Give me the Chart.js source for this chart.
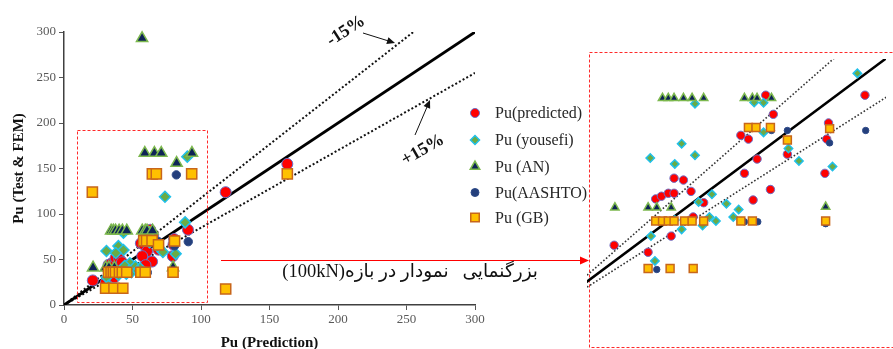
<!DOCTYPE html>
<html><head><meta charset="utf-8">
<script src="https://cdn.jsdelivr.net/npm/chart.js@4.4.1/dist/chart.umd.min.js"></script>
<style>
html,body{margin:0;padding:0;background:#fff;width:893px;height:349px;overflow:hidden;}
#main{position:absolute;left:0;top:0;width:893px;height:349px;}
#inset{position:absolute;left:580px;top:52px;width:313px;height:296px;}
#note{position:absolute;right:355px;top:259px;line-height:24px;font-size:18.5px;font-family:"Liberation Serif","DejaVu Serif","DejaVu Sans",serif;color:#111;white-space:pre;direction:rtl;}
</style></head><body>
<canvas id="main" width="893" height="349"></canvas>
<canvas id="inset" width="313" height="296"></canvas>
<div id="note" dir="rtl">بزرگنمایی   نمودار در بازه(100kN)</div>
<script>
// ---- data (x = Pu prediction, y = Pu test & FEM) ----
const predicted = [[21,27],[30.4,24.4],[36.8,30.4],[32.5,44.2],[34.1,45.2],[36,46.3],[37.6,46.3],[37.6,51.9],[40.2,51.2],[42.3,47],[42.9,37.5],[45.8,42.8],[56.1,67.8],[58.2,66.4],[63,82.7],[65.1,75.6],[69,60.8],[60.6,59],[57.1,53.7],[64.3,47.7],[59.5,43.8],[80.4,72.4],[79.9,66.4],[79.4,53.7],[90.5,82.7],[118,124],[163,155]];
const yousefi = [[31,59.4],[39.7,64.7],[43.4,60.4],[37.8,57.2],[43.4,79.5],[48.1,45.9],[44.4,43.1],[52.1,42.4],[55.5,40.3],[47.4,37.5],[49.2,36],[54,37.5],[45.5,34.3],[39.7,32.9],[37.8,36.4],[31.2,30.4],[32.3,21.2],[62.4,79.9],[59.8,80],[62.4,68.9],[69.3,62.9],[72.2,58.3],[81.5,56.2],[88.4,90.8],[73.7,119],[90,163]];
const an = [[21.2,41],[30.4,41],[32.8,41],[36.8,41],[79.6,41.3],[34.4,81.6],[36,81.6],[37.6,81.6],[40.2,81.6],[42.6,81.6],[45.8,81.6],[57.1,81.6],[59.3,81.6],[60.6,81.6],[64.6,81.6],[82.2,156],[59,167],[66,167],[71,167],[93.4,167],[57,293]];
const aashto = [[32.8,18],[57.1,35.7],[60.8,35.7],[79.6,35],[64.6,69.6],[69,69.6],[80.7,65],[90.7,69.6],[82,143]];
const gb = [[30.4,18.4],[36.5,18.4],[42.9,18.4],[32.5,36],[34.4,36],[36,36],[37.6,36],[40.5,36],[42.6,36],[45.8,36],[56.1,36],[59.3,36],[79.6,36],[58.2,70.7],[60.3,70.7],[64.3,70.7],[69,66.1],[80.7,70.3],[20.7,124],[64.5,144],[67.4,144],[93.2,144],[118,17.6],[163,144]];
const seriesLabels = ['Pu(predicted)','Pu (yousefi)','Pu (AN)','Pu(AASHTO)','Pu (GB)'];
const axisMax = 300;
const tolerance = 0.15;
const tickStep = 50;
const zoomRange = [9.5, 104.5, 3, 192]; // region magnified (x0,x1,y0,y1)

const styles = [
  {pointStyle:'circle', bg:'#ff0000', bc:'#6a70c8', bw:1, r:5.5, ri:4.2, order:5},
  {pointStyle:'rectRot', bg:'#6aab45', bc:'#20c0ea', bw:1.5, r:5.5, ri:4.2, order:4},
  {pointStyle:'triangle', bg:'#0e2356', bc:'#7cb84e', bw:1.5, r:6.5, ri:4.8, order:3},
  {pointStyle:'circle', bg:'#243f7c', bc:'#2e4a88', bw:1, r:4.2, ri:3.2, order:2},
  {pointStyle:'rect', bg:'#ffc000', bc:'#c8661a', bw:1.5, r:7.2, ri:5.6, order:1}
];
const allSeries = [predicted, yousefi, an, aashto, gb];

function pointSets(inset){
  return allSeries.map((pts,i)=>({
    label: seriesLabels[i],
    data: pts.map(p=>({x:p[0],y:p[1]})),
    pointStyle: styles[i].pointStyle,
    backgroundColor: styles[i].bg,
    borderColor: styles[i].bc,
    borderWidth: styles[i].bw,
    pointRadius: inset ? styles[i].ri : styles[i].r,
    pointHoverRadius: inset ? styles[i].ri : styles[i].r,
    order: styles[i].order,
    showLine:false,
    clip: false
  }));
}
function lineSets(inset){
  return [
    {label:'1:1', data:[{x:0,y:0},{x:axisMax,y:axisMax}], showLine:true, pointRadius:0, borderColor:'#000', borderWidth: inset?2.6:2.8, order:10, clip:0},
    {label:'-15%', data:[{x:0,y:0},{x:axisMax*(1-tolerance),y:axisMax}], showLine:true, pointRadius:0, borderColor: inset?'#333':'#111', borderWidth: inset?1.6:2, borderDash: inset?[1.6,2]:[2,2.2], order:10, clip:0},
    {label:'+15%', data:[{x:0,y:0},{x:axisMax,y:axisMax*(1-tolerance)}], showLine:true, pointRadius:0, borderColor: inset?'#333':'#111', borderWidth: inset?1.6:2, borderDash: inset?[1.6,2]:[2,2.2], order:10, clip:0}
  ];
}

function drawMarker(ctx, st, x, y, r){
  ctx.save();
  ctx.fillStyle = st.bg; ctx.strokeStyle = st.bc; ctx.lineWidth = st.bw;
  if (Chart.helpers && Chart.helpers.drawPoint){
    Chart.helpers.drawPoint(ctx, {pointStyle:st.pointStyle, radius:r, borderWidth:st.bw, rotation:0}, x, y);
  }
  ctx.restore();
}
function arrow(ctx, x0,y0,x1,y1, head, color){
  const a = Math.atan2(y1-y0,x1-x0);
  ctx.save();
  ctx.strokeStyle=color; ctx.fillStyle=color; ctx.lineWidth=1; ctx.setLineDash([]);
  ctx.beginPath(); ctx.moveTo(x0,y0); ctx.lineTo(x1-Math.cos(a)*head*0.8,y1-Math.sin(a)*head*0.8); ctx.stroke();
  ctx.beginPath(); ctx.moveTo(x1,y1);
  ctx.lineTo(x1-Math.cos(a)*head+Math.sin(a)*head*0.45, y1-Math.sin(a)*head-Math.cos(a)*head*0.45);
  ctx.lineTo(x1-Math.cos(a)*head-Math.sin(a)*head*0.45, y1-Math.sin(a)*head+Math.cos(a)*head*0.45);
  ctx.closePath(); ctx.fill();
  ctx.restore();
}

const overlay = {
  id:'overlay',
  afterDraw(chart){
    const ctx = chart.ctx, xs = chart.scales.x, ys = chart.scales.y;
    ctx.save();
    // magnified region box
    ctx.strokeStyle = '#ff2a2a'; ctx.lineWidth = 1; ctx.setLineDash([3,2]);
    const bx0 = xs.getPixelForValue(zoomRange[0]), bx1 = xs.getPixelForValue(zoomRange[1]);
    const by0 = ys.getPixelForValue(zoomRange[2]), by1 = ys.getPixelForValue(zoomRange[3]);
    ctx.strokeRect(Math.round(bx0)+0.5, Math.round(by1)+0.5, Math.round(bx1-bx0), Math.round(by0-by1));
    // inset frame
    ctx.strokeRect(589.5, 52.5, 310, 295);
    ctx.setLineDash([]);
    // red arrow to inset
    arrow(ctx, 221, 260.5, 589, 260.5, 9, '#ff0000');
    // tolerance labels
    ctx.fillStyle = '#111';
    ctx.font = 'bold 18px "Liberation Serif", serif';
    ctx.textAlign='center'; ctx.textBaseline='middle';
    ctx.save(); ctx.translate(346, 31); ctx.rotate(-33*Math.PI/180); ctx.fillText('-15%',0,0); ctx.restore();
    ctx.save(); ctx.translate(423, 150); ctx.rotate(-30*Math.PI/180); ctx.fillText('+15%',0,0); ctx.restore();
    arrow(ctx, 363, 33, 395, 43, 8, '#111');
    arrow(ctx, 415, 135, 430, 100, 8, '#111');
    // legend
    const rows = [113, 140, 166.5, 192.5, 217.5];
    ctx.font = '16px "Liberation Serif", serif';
    ctx.textAlign='left'; ctx.textBaseline='middle'; ctx.fillStyle='#262626';
    seriesLabels.forEach((lab,i)=>{
      drawMarker(ctx, styles[i], 475, rows[i], [4.5,4.5,5.5,4,6][i]);
      ctx.fillStyle='#262626';
      ctx.fillText(lab, 495, rows[i]+1);
    });
    ctx.restore();
  }
};

const tickFont = {family:'"Liberation Serif", serif', size:13};
new Chart(document.getElementById('main'), {
  type:'scatter',
  data:{datasets:[...pointSets(false), ...lineSets(false)]},
  options:{
    responsive:false, animation:false, devicePixelRatio:1,
    layout:{padding:{left:0,top:32,right:418,bottom:0}},
    plugins:{legend:{display:false}, tooltip:{enabled:false}},
    scales:{
      x:{type:'linear', min:0, max:axisMax,
        ticks:{stepSize:tickStep, color:'#595959', font:tickFont, padding:2, maxRotation:0},
        grid:{drawOnChartArea:false, drawTicks:true, tickLength:5, color:'#555'},
        border:{color:'#404040', width:1.5},
        title:{display:true, text:'Pu (Prediction)', color:'#111', font:{family:'"Liberation Serif", serif', size:15, weight:'bold', lineHeight:1.0}, padding:{top:0,bottom:-2}},
        afterFit(s){ s.height = 44; }
      },
      y:{type:'linear', min:0, max:axisMax,
        ticks:{stepSize:tickStep, color:'#595959', font:tickFont, padding:3},
        grid:{drawOnChartArea:false, drawTicks:true, tickLength:5, color:'#555'},
        border:{color:'#404040', width:1.5},
        title:{display:true, text:'Pu (Test & FEM)', color:'#111', font:{family:'"Liberation Serif", serif', size:15, weight:'bold', lineHeight:1.0}, padding:{top:12,bottom:0}},
        afterFit(s){ s.width = 64; }
      }
    }
  },
  plugins:[overlay]
});

new Chart(document.getElementById('inset'), {
  type:'scatter',
  data:{datasets:[...pointSets(true), ...lineSets(true)]},
  options:{
    responsive:false, animation:false, devicePixelRatio:1,
    layout:{padding:0},
    plugins:{legend:{display:false}, tooltip:{enabled:false}},
    scales:{
      x:{type:'linear', min:13.5, max:96.3, display:false},
      y:{type:'linear', min:-8.5, max:96.1, display:false}
    }
  }
});
</script>
</body></html>
